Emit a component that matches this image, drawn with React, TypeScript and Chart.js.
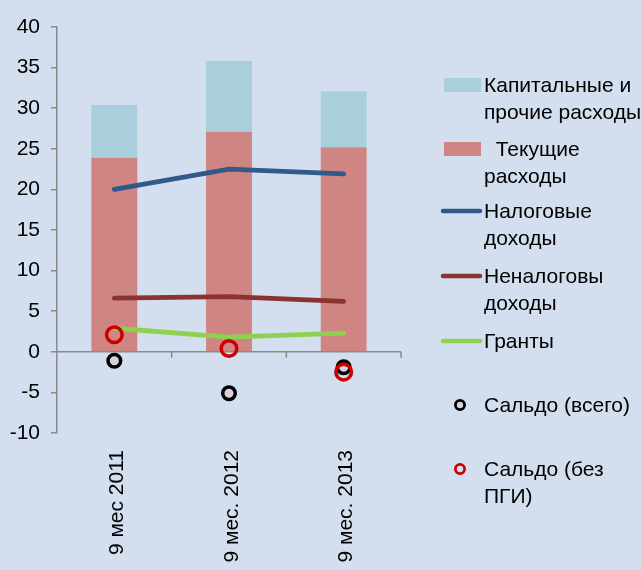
import React, { useEffect, useRef } from "react";
import { Chart, registerables } from "chart.js";
Chart.register(...registerables);

const categories = ["9 мес 2011", "9 мес. 2012", "9 мес. 2013"];
const currentExp = [23.9, 27.1, 25.2];
const capitalExp = [6.5, 8.7, 6.9];
const taxRev = [20.0, 22.5, 21.9];
const nonTaxRev = [6.6, 6.8, 6.2];
const grants = [2.9, 1.8, 2.3];
const balanceTotal = [-1.1, -5.1, -1.9];
const balanceExGrants = [2.1, 0.4, -2.5];

const Y_MIN = -10;
const Y_MAX = 40;
const Y_STEP = 5;

const FONT = "'Liberation Sans', Arial, sans-serif";
const FONT_SIZE = 21;
const BG = "#d3dfee";
const C_CAPITAL = "#a9cfdd";
const C_CURRENT = "#cf8581";
const C_TAX = "#31598a";
const C_NONTAX = "#8a3331";
const C_GRANTS = "#8fd14f";
const C_AXIS = "#8a8a8a";

const legendItems = [
  { kind: "rect", color: C_CAPITAL, lines: ["Капитальные и", "прочие расходы"], base: 92 },
  { kind: "rect", color: C_CURRENT, lines: ["  Текущие", "расходы"], base: 156 },
  { kind: "line", color: C_TAX, lines: ["Налоговые", "доходы"], base: 218 },
  { kind: "line", color: C_NONTAX, lines: ["Неналоговы", "доходы"], base: 283 },
  { kind: "line", color: C_GRANTS, lines: ["Гранты"], base: 348 },
  { kind: "dot", color: "#000000", fill: "#d9d0dc", lines: ["Сальдо (всего)"], base: 412 },
  { kind: "dot", color: "#cc0000", fill: "rgba(0,0,0,0)", lines: ["Сальдо (без", "ПГИ)"], base: 476 },
];

const customPlugin = {
  id: "customDecor",
  beforeDatasetsDraw(chart: any) {
    const { ctx, chartArea, scales } = chart;
    const x = scales.x;
    const y = scales.y;
    const y0 = y.getPixelForValue(0);
    ctx.save();
    ctx.strokeStyle = C_AXIS;
    ctx.lineWidth = 1.5;
    ctx.beginPath();
    ctx.moveTo(chartArea.left, y0);
    ctx.lineTo(chartArea.right, y0);
    const n = categories.length;
    for (let i = 1; i <= n; i++) {
      const px =
        i === n
          ? chartArea.right
          : (x.getPixelForValue(i - 1) + x.getPixelForValue(i)) / 2;
      ctx.moveTo(px, y0);
      ctx.lineTo(px, y0 + 6);
    }
    ctx.stroke();
    ctx.restore();
  },
  afterDraw(chart: any) {
    const { ctx } = chart;
    ctx.save();
    ctx.font = `${FONT_SIZE}px ${FONT}`;
    ctx.textBaseline = "alphabetic";
    ctx.textAlign = "left";
    const textX = 484;
    legendItems.forEach((it) => {
      const midY = it.base - 7;
      if (it.kind === "rect") {
        ctx.fillStyle = it.color;
        ctx.fillRect(444, midY - 7, 37, 14);
      } else if (it.kind === "line") {
        ctx.strokeStyle = it.color;
        ctx.lineWidth = 4.5;
        ctx.lineCap = "round";
        ctx.beginPath();
        ctx.moveTo(443, midY);
        ctx.lineTo(480, midY);
        ctx.stroke();
      } else {
        ctx.fillStyle = (it as any).fill;
        ctx.strokeStyle = it.color;
        ctx.lineWidth = 2.8;
        ctx.beginPath();
        ctx.arc(460, midY, 4.6, 0, Math.PI * 2);
        ctx.fill();
        ctx.stroke();
      }
      ctx.fillStyle = "#000";
      it.lines.forEach((t, i) => {
        ctx.fillText(t, textX, it.base + i * 26.5);
      });
    });
    ctx.restore();
  },
};

export default function App() {
  const ref = useRef<HTMLCanvasElement | null>(null);
  useEffect(() => {
    if (!ref.current) return;
    const chart = new Chart(ref.current, {
      type: "bar",
      data: {
        labels: categories,
        datasets: [
          {
            type: "bar",
            label: "Текущие расходы",
            data: currentExp,
            backgroundColor: C_CURRENT,
            stack: "exp",
            order: 10,
            barPercentage: 0.4,
            categoryPercentage: 1,
          },
          {
            type: "bar",
            label: "Капитальные и прочие расходы",
            data: capitalExp,
            backgroundColor: C_CAPITAL,
            stack: "exp",
            order: 10,
            barPercentage: 0.4,
            categoryPercentage: 1,
          },
          {
            type: "line",
            label: "Налоговые доходы",
            data: taxRev,
            borderColor: C_TAX,
            borderWidth: 4.8,
            pointRadius: 0,
            stack: "tax",
            order: 5,
            borderCapStyle: "round",
          },
          {
            type: "line",
            label: "Неналоговы доходы",
            data: nonTaxRev,
            borderColor: C_NONTAX,
            borderWidth: 4.8,
            pointRadius: 0,
            stack: "nontax",
            order: 5,
            borderCapStyle: "round",
          },
          {
            type: "line",
            label: "Гранты",
            data: grants,
            borderColor: C_GRANTS,
            borderWidth: 4.8,
            pointRadius: 0,
            stack: "grants",
            order: 5,
            borderCapStyle: "round",
          },
          {
            type: "line",
            label: "Сальдо (всего)",
            data: balanceTotal,
            showLine: false,
            pointRadius: 6.3,
            pointBorderWidth: 3.5,
            pointBorderColor: "#000",
            pointBackgroundColor: "#d9d0dc",
            stack: "bal1",
            order: 2,
          },
          {
            type: "line",
            label: "Сальдо (без ПГИ)",
            data: balanceExGrants,
            showLine: false,
            pointRadius: 7.8,
            pointBorderWidth: 3.5,
            pointBorderColor: "#cc0000",
            pointBackgroundColor: "rgba(0,0,0,0)",
            stack: "bal2",
            order: 1,
          },
        ] as any,
      },
      options: {
        animation: false,
        responsive: false,
        devicePixelRatio: 1,
        layout: { padding: { top: 27, right: 240, left: 0, bottom: 0 } },
        plugins: { legend: { display: false }, tooltip: { enabled: false } },
        scales: {
          x: {
            stacked: true,
            border: { display: false },
            grid: { display: false, drawTicks: false },
            ticks: {
              minRotation: 90,
              maxRotation: 90,
              autoSkip: false,
              padding: 17,
              labelOffset: 3,
              color: "#000",
              font: { family: FONT, size: FONT_SIZE },
            },
            afterFit(s: any) {
              s.height = 620 - 433;
            },
          },
          y: {
            stacked: true,
            min: Y_MIN,
            max: Y_MAX,
            border: { display: true, color: C_AXIS, width: 1.5 },
            grid: {
              drawOnChartArea: false,
              drawTicks: true,
              tickLength: 6,
              color: C_AXIS,
              lineWidth: 1.5,
            },
            ticks: {
              stepSize: Y_STEP,
              padding: 11,
              color: "#000",
              font: { family: FONT, size: FONT_SIZE },
            },
            afterFit(s: any) {
              s.width = 57;
            },
          },
        },
      } as any,
      plugins: [customPlugin],
    });
    return () => chart.destroy();
  }, []);
  return (
    <div
      style={{
        position: "absolute",
        left: 0,
        top: 0,
        width: 641,
        height: 570,
        overflow: "hidden",
        background: BG,
      }}
    >
      <canvas ref={ref} width={641} height={620} style={{ width: 641, height: 620, display: "block" }} />
    </div>
  );
}
